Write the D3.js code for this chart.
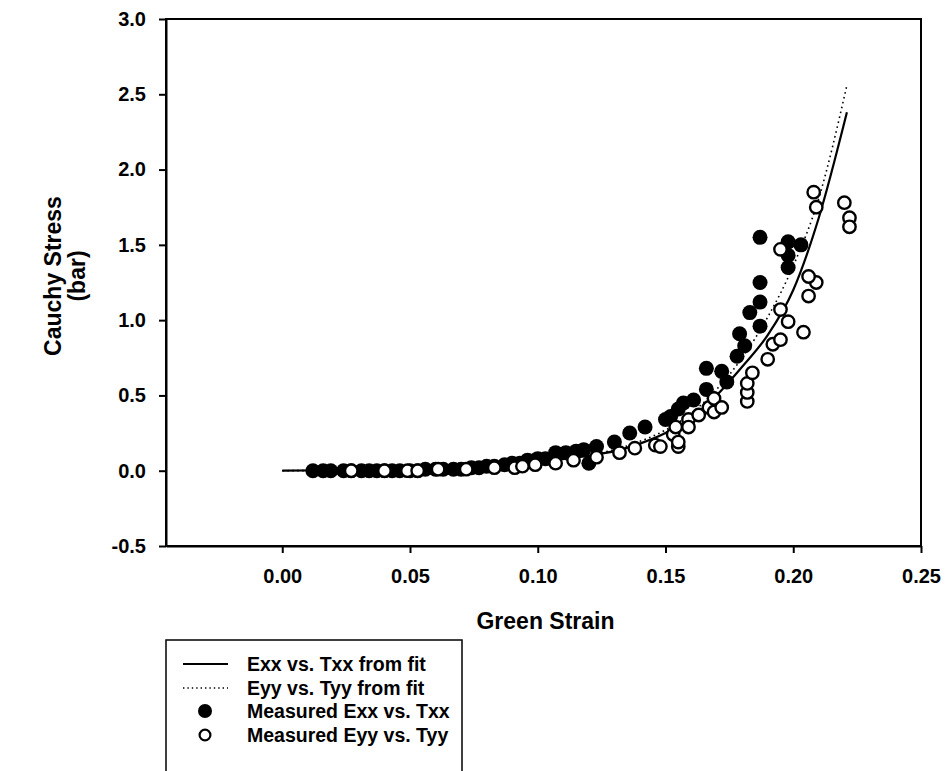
<!DOCTYPE html>
<html>
<head>
<meta charset="utf-8">
<script src="https://cdn.jsdelivr.net/npm/d3@7"></script>
<style>
  html, body { margin: 0; padding: 0; background: #fff; }
  svg text { font-family: "Liberation Sans", Arial, sans-serif; font-weight: bold; fill: #000; }
</style>
</head>
<body>
<svg id="chart" width="947" height="771"></svg>
<script>
// Fitted constitutive curves (strain, stress in bar)
const fitStrain = [0.000, 0.020, 0.040, 0.060, 0.080, 0.100, 0.120, 0.130, 0.140, 0.150, 0.160, 0.170, 0.180, 0.190, 0.200, 0.210, 0.221];
const fitExx    = [0.000, 0.003, 0.010, 0.020, 0.035, 0.060, 0.100, 0.130, 0.180, 0.250, 0.350, 0.500, 0.690, 0.900, 1.200, 1.680, 2.380];
const fitEyy    = [0.000, 0.003, 0.010, 0.020, 0.036, 0.062, 0.105, 0.140, 0.195, 0.270, 0.380, 0.540, 0.750, 1.020, 1.360, 1.810, 2.560];

// Measured Exx vs. Txx
const measExxStrain = [0.012, 0.016, 0.019, 0.024, 0.027, 0.031, 0.034, 0.037, 0.040, 0.043, 0.046, 0.050, 0.053, 0.056, 0.060, 0.063, 0.067, 0.070, 0.074, 0.077, 0.080, 0.083, 0.087, 0.090, 0.093, 0.096, 0.100, 0.103, 0.107, 0.111, 0.115, 0.118, 0.120, 0.123, 0.130, 0.136, 0.142, 0.150, 0.152, 0.155, 0.157, 0.161, 0.166, 0.166, 0.172, 0.174, 0.178, 0.179, 0.181, 0.183, 0.187, 0.187, 0.187, 0.187, 0.198, 0.198, 0.198, 0.203];
const measExxStress = [0.00, 0.00, 0.00, 0.00, 0.00, 0.00, 0.00, 0.00, 0.00, 0.00, 0.00, 0.00, 0.00, 0.01, 0.01, 0.01, 0.01, 0.01, 0.02, 0.02, 0.03, 0.03, 0.04, 0.05, 0.05, 0.07, 0.08, 0.08, 0.12, 0.12, 0.13, 0.14, 0.05, 0.16, 0.19, 0.25, 0.29, 0.34, 0.36, 0.41, 0.45, 0.47, 0.54, 0.68, 0.66, 0.59, 0.76, 0.91, 0.83, 1.05, 0.96, 1.12, 1.25, 1.55, 1.35, 1.43, 1.52, 1.50];

// Measured Eyy vs. Tyy
const measEyyStrain = [0.027, 0.040, 0.049, 0.053, 0.061, 0.072, 0.083, 0.091, 0.094, 0.099, 0.107, 0.114, 0.123, 0.132, 0.138, 0.146, 0.148, 0.153, 0.154, 0.155, 0.155, 0.159, 0.159, 0.163, 0.167, 0.169, 0.169, 0.172, 0.182, 0.182, 0.182, 0.184, 0.190, 0.192, 0.195, 0.198, 0.195, 0.204, 0.195, 0.206, 0.209, 0.206, 0.209, 0.208, 0.220, 0.222, 0.222];
const measEyyStress = [0.00, 0.00, 0.00, 0.00, 0.01, 0.01, 0.02, 0.02, 0.03, 0.04, 0.05, 0.07, 0.09, 0.12, 0.15, 0.17, 0.16, 0.24, 0.29, 0.16, 0.19, 0.34, 0.29, 0.37, 0.42, 0.48, 0.39, 0.42, 0.46, 0.52, 0.58, 0.65, 0.74, 0.84, 0.87, 0.99, 1.07, 0.92, 1.47, 1.16, 1.25, 1.29, 1.75, 1.85, 1.78, 1.68, 1.62];

const xTicks = [0.00, 0.05, 0.10, 0.15, 0.20, 0.25];
const yTicks = [-0.5, 0.0, 0.5, 1.0, 1.5, 2.0, 2.5, 3.0];

const legendLabels = ["Exx vs. Txx from fit", "Eyy vs. Tyy from fit", "Measured Exx vs. Txx", "Measured Eyy vs. Tyy"];

const svg = d3.select("#chart");
const plot = { left: 166, right: 921, top: 19, bottom: 546 };

const x = d3.scaleLinear().domain([-0.0455, 0.25]).range([plot.left, plot.right]);
const y = d3.scaleLinear().domain([-0.5, 3.0]).range([plot.bottom, plot.top]);

// Plain hyphen for negative tick values
const fmt = p => v => d3.format(p)(v).replace("\u2212", "-");

// Frame
svg.append("rect")
  .attr("x", plot.left).attr("y", plot.top)
  .attr("width", plot.right - plot.left).attr("height", plot.bottom - plot.top)
  .attr("fill", "none").attr("stroke", "#000").attr("stroke-width", 2);

// Axes
const xAxis = d3.axisBottom(x).tickValues(xTicks).tickFormat(fmt(".2f")).tickSize(7).tickPadding(16).tickSizeOuter(0);
const yAxis = d3.axisLeft(y).tickValues(yTicks).tickFormat(fmt(".1f")).tickSize(7).tickPadding(13).tickSizeOuter(0);

const gx = svg.append("g").attr("transform", `translate(0,${plot.bottom})`).call(xAxis);
const gy = svg.append("g").attr("transform", `translate(${plot.left},0)`).call(yAxis);
[gx, gy].forEach(g => {
  g.select(".domain").attr("stroke-width", 2);
  g.selectAll(".tick line").attr("stroke-width", 2);
  g.selectAll(".tick text").style("font-size", "20px").style("font-family", "'Liberation Sans', Arial, sans-serif").style("font-weight", "bold");
});

// Axis titles
svg.append("text")
  .attr("x", (plot.left + plot.right) / 2 + 2).attr("y", 629)
  .attr("text-anchor", "middle").style("font-size", "23px")
  .text("Green Strain");

const yTitle = svg.append("text")
  .attr("transform", "translate(61,276) rotate(-90)")
  .attr("text-anchor", "middle").style("font-size", "23px");
yTitle.append("tspan").attr("x", 0).attr("dy", 0).text("Cauchy Stress");
yTitle.append("tspan").attr("x", 0).attr("dy", 24).text("(bar)");

// Fit curves
svg.append("clipPath").attr("id", "plotClip").append("rect")
  .attr("x", plot.left).attr("y", plot.top)
  .attr("width", plot.right - plot.left).attr("height", plot.bottom - plot.top);

const line = d3.line().curve(d3.curveMonotoneX);
const exxPts = fitStrain.map((s, i) => [x(s), y(fitExx[i])]);
const eyyPts = fitStrain.map((s, i) => [x(s), y(fitEyy[i])]);

const curves = svg.append("g").attr("clip-path", "url(#plotClip)");
curves.append("path").attr("d", line(eyyPts))
  .attr("fill", "none").attr("stroke", "#000").attr("stroke-width", 1.6)
  .attr("stroke-dasharray", "1.6,3.4");
curves.append("path").attr("d", line(exxPts))
  .attr("fill", "none").attr("stroke", "#000").attr("stroke-width", 2.2);

// Measured points
const pts = svg.append("g");
pts.selectAll("circle.exx")
  .data(measExxStrain.map((s, i) => [s, measExxStress[i]]))
  .join("circle").attr("class", "exx")
  .attr("cx", d => x(d[0])).attr("cy", d => y(d[1]))
  .attr("r", 7.5).attr("fill", "#000");

pts.selectAll("circle.eyy")
  .data(measEyyStrain.map((s, i) => [s, measEyyStress[i]]))
  .join("circle").attr("class", "eyy")
  .attr("cx", d => x(d[0])).attr("cy", d => y(d[1]))
  .attr("r", 6.2).attr("fill", "#fff").attr("stroke", "#000").attr("stroke-width", 2.4);

// Legend
const lg = svg.append("g");
lg.append("rect").attr("x", 166).attr("y", 640).attr("width", 296).attr("height", 160)
  .attr("fill", "#fff").attr("stroke", "#000").attr("stroke-width", 1.5);

const rowY = [664, 688, 711, 735];
lg.append("line").attr("x1", 183).attr("x2", 228).attr("y1", rowY[0]).attr("y2", rowY[0])
  .attr("stroke", "#000").attr("stroke-width", 2.2);
lg.append("line").attr("x1", 183).attr("x2", 228).attr("y1", rowY[1]).attr("y2", rowY[1])
  .attr("stroke", "#000").attr("stroke-width", 1.4).attr("stroke-dasharray", "1.4,3");
lg.append("circle").attr("cx", 205).attr("cy", rowY[2]).attr("r", 7).attr("fill", "#000");
lg.append("circle").attr("cx", 205).attr("cy", rowY[3]).attr("r", 5.4)
  .attr("fill", "#fff").attr("stroke", "#000").attr("stroke-width", 2.2);

lg.selectAll("text.lbl").data(legendLabels).join("text").attr("class", "lbl")
  .attr("x", 247).attr("y", (d, i) => rowY[i]).attr("dy", "0.36em")
  .style("font-size", "19.5px").text(d => d);
</script>
</body>
</html>
